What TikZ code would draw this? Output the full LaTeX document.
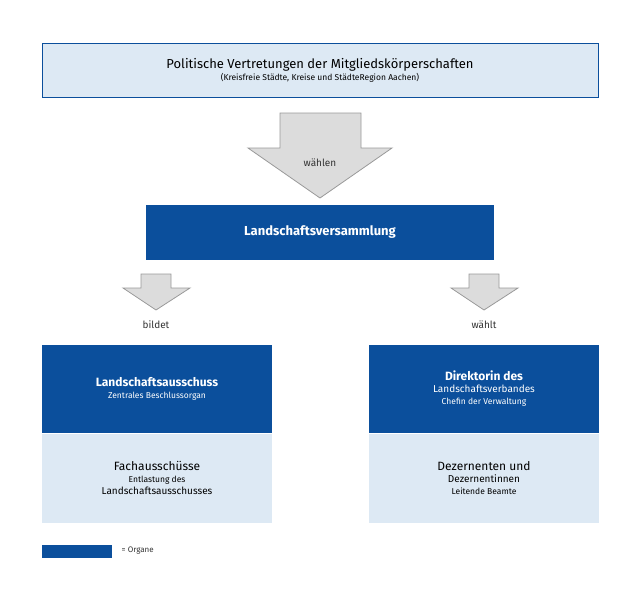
\documentclass[tikz,border=0pt]{standalone}
\usepackage{fontspec}
\setmainfont{Fira Sans}
\usetikzlibrary{positioning}
\definecolor{lvblue}{HTML}{0B4F9C}
\definecolor{lvlight}{HTML}{DDE9F4}
\definecolor{arrgray}{HTML}{DCDCDC}
\newcommand{\bigtxt}{\fontsize{12}{15}\selectfont}
\newcommand{\smalltxt}{\fontsize{8.5}{11}\selectfont}
\tikzstyle{lightbox} = [draw=lvblue, line width=1pt, fill=lvlight, align=center, inner sep=0pt]
\tikzstyle{darkbox} = [fill=lvblue, text=white, align=center, inner sep=0pt]
\tikzstyle{bigarrow} = [draw=gray!80, fill=arrgray, line width=0.8pt]
\tikzstyle{arrowtext} = [text=black!80, font=\fontsize{10}{12}\selectfont]

\begin{document}
\begin{tikzpicture}[x=1pt, y=-1pt]
    \useasboundingbox (0,0) rectangle (640,592);
    % top box
    \node [lightbox, minimum width=556pt, minimum height=54pt] (members) at (320,70)
        {\fontsize{13}{17}\selectfont Politische Vertretungen der Mitgliedskörperschaften\\
         \smalltxt (Kreisfreie Städte, Kreise und StädteRegion Aachen)};
    % big arrow
    \draw [bigarrow] (280,113) -- (361,113) -- (361,148) -- (392,148) -- (320,198)
        -- (248,148) -- (280,148) -- cycle;
    \node [arrowtext] (waehlen) at (320,163) {wählen};
    \node [darkbox, minimum width=348pt, minimum height=55pt, font=\fontsize{13}{15}\selectfont\bfseries]
        (lv) at (320,232) {Landschaftsversammlung};
    % small arrows
    \draw [bigarrow] (141,274) -- (171,274) -- (171,288) -- (190,288) -- (156,310)
        -- (123,288) -- (141,288) -- cycle;
    \draw [bigarrow] (469,274) -- (499,274) -- (499,288) -- (518,288) -- (484,310)
        -- (451,288) -- (469,288) -- cycle;
    \node [arrowtext] (bildet) at (156,325) {bildet};
    \node [arrowtext] (waehlt) at (484,325) {wählt};
    % left column
    \node [darkbox, minimum width=230pt, minimum height=88pt] (ausschuss) at (157,389)
        {\bigtxt\bfseries Landschaftsausschuss\\
         \smalltxt\mdseries Zentrales Beschlussorgan};
    \node [lightbox, draw=none, minimum width=230pt, minimum height=89pt, below=0pt of ausschuss]
        (fach) {\bigtxt Fachausschüsse\\
         \smalltxt Entlastung des\\Landschaftsausschusses};
    % right column
    \node [darkbox, minimum width=230pt, minimum height=88pt] (direktorin) at (484,389)
        {\bigtxt\bfseries Direktorin des\\Landschaftsverbandes\\
         \smalltxt\mdseries Chefin der Verwaltung};
    \node [lightbox, draw=none, minimum width=230pt, minimum height=89pt, below=0pt of direktorin]
        (dezernenten) {\bigtxt Dezernenten und\\Dezernentinnen\\
         \smalltxt Leitende Beamte};
    % legend
    \node [darkbox, minimum width=70pt, minimum height=13pt] (legend) at (77,551) {};
    \node [arrowtext, font=\fontsize{8}{10}\selectfont, right=6pt of legend] (organe) {= Organe};
\end{tikzpicture}
\end{document}
